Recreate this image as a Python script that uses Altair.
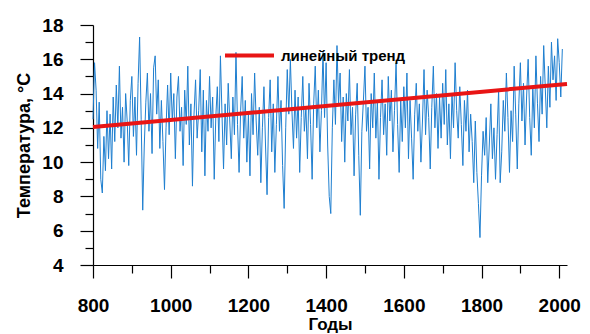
import altair as alt
import pandas as pd

start_year = 800
step = 4
temps = [
    # 800-896
    12.5, 15.8, 14.2, 10.8, 13.5, 9.0, 8.2, 11.5, 9.5, 13.0, 10.2, 12.8, 9.6, 13.8, 11.2, 14.5, 12.0, 15.6, 11.4, 13.2, 10.0, 14.0, 12.4, 9.8, 13.6,
    # 900-996
    15.0, 11.5, 13.8, 10.4, 14.6, 17.3, 12.5, 7.2, 11.0, 13.5, 15.2, 11.8, 14.0, 10.5, 15.5, 16.2, 12.8, 14.8, 10.8, 13.6, 11.2, 8.4, 12.0, 14.5, 11.6,
    # 1000-1096
    15.2, 12.4, 14.0, 10.2, 13.8, 15.0, 11.8, 13.2, 9.8, 14.2, 12.2, 15.6, 11.0, 13.4, 8.6, 12.8, 14.8, 11.4, 13.0, 15.4, 10.6, 14.2, 9.2, 13.6, 11.8,
    # 1100-1196
    15.0, 12.0, 13.8, 9.0, 12.6, 14.4, 11.2, 16.2, 12.8, 9.6, 13.4, 11.0, 14.6, 12.4, 10.2, 13.8, 11.6, 16.4, 12.2, 9.4, 13.0, 15.0, 11.4, 13.6, 10.0,
    # 1200-1296
    12.8, 9.2, 14.0, 11.6, 15.2, 12.4, 10.4, 13.2, 8.8, 12.0, 14.4, 11.0, 8.1, 12.6, 14.8, 10.6, 13.4, 9.4, 12.2, 15.0, 11.8, 13.6, 9.8, 7.3, 12.0,
    # 1300-1396
    15.4, 12.8, 16.0, 13.0, 10.8, 14.2, 11.4, 13.8, 9.4, 12.6, 15.0, 11.8, 13.2, 10.2, 14.6, 12.2, 9.0, 13.4, 15.6, 12.0, 14.2, 10.6, 13.0, 16.4, 12.6,
    # 1400-1496
    15.8, 11.0, 8.0, 7.0, 12.0, 14.8, 12.2, 16.8, 13.4, 15.2, 11.2, 13.8, 10.0, 14.0, 12.4, 15.4, 11.6, 13.2, 9.2, 12.8, 14.6, 10.4, 6.9, 11.8, 13.6,
    # 1500-1596
    15.6, 11.8, 13.2, 9.6, 14.0, 12.0, 15.2, 11.4, 13.6, 9.0, 12.6, 14.8, 11.6, 13.4, 10.4, 15.0, 12.4, 14.2, 10.6, 13.0, 15.8, 12.2, 9.4, 13.6, 11.2,
    # 1600-1696
    14.4, 12.0, 15.2, 10.2, 13.6, 11.4, 9.0, 12.8, 14.6, 11.8, 13.4, 10.0, 12.4, 15.4, 11.6, 14.2, 12.6, 9.6, 13.2, 15.6, 12.0, 14.0, 10.8, 13.8, 11.4,
    # 1700-1796
    14.6, 12.2, 15.4, 11.0, 13.4, 10.2, 14.0, 12.0, 15.8, 13.0, 11.4, 14.4, 12.2, 9.8, 13.6, 11.8, 14.2, 10.6, 12.8, 11.2, 8.8, 12.4, 9.4, 7.6, 5.6,
    # 1800-1896
    9.2, 11.8, 10.4, 12.6, 8.8, 11.0, 13.4, 10.2, 12.0, 9.0, 11.6, 14.2, 8.8, 10.6, 13.6, 11.8, 15.2, 12.6, 9.4, 13.0, 11.2, 15.6, 12.8, 9.6, 13.4,
    # 1900-2008
    15.8, 12.4, 14.6, 11.0, 13.8, 16.0, 12.6, 10.4, 14.4, 12.0, 16.2, 13.4, 11.2, 15.0, 12.8, 16.8, 14.4, 12.0, 15.6, 13.2, 17.0, 14.8, 16.2, 13.6, 17.2,
    15.8, 13.8, 16.6,
]
years = [start_year + step * i for i in range(len(temps))]

trend_label = "линейный тренд"
trend_years = [800, 2020]
trend_values = [12.05, 14.56]

x_ticks = list(range(800, 2001, 100))
y_ticks = list(range(4, 19, 1))

series = pd.DataFrame({"year": years, "temp": temps})
trend = pd.DataFrame({"year": trend_years, "temp": trend_values, "name": [trend_label] * 2})

font = "Liberation Sans"

x_axis = alt.Axis(
    title="Годы",
    values=x_ticks,
    format="d",
    labelExpr="datum.value % 200 == 0 ? datum.label : ''",
    labelOverlap=False,
    labelFlush=False,
    ticks=True,
    tickSize={"condition": {"test": "datum.value % 200 == 0", "value": 13}, "value": 8},
    tickWidth=1.2,
    labelPadding=18,
    titlePadding=1,
    grid=False,
    domainColor="black",
    domainWidth=1.2,
    tickColor="black",
    labelFont=font,
    labelFontSize=19,
    labelFontWeight="bold",
    labelColor="black",
    titleFont=font,
    titleFontSize=17,
    titleFontWeight="bold",
    titleColor="black",
)

y_axis = alt.Axis(
    title="Температура, °C",
    values=y_ticks,
    labelExpr="datum.value % 2 == 0 ? datum.label : ''",
    labelOverlap=False,
    ticks=True,
    tickSize={"condition": {"test": "datum.value % 2 == 0", "value": 13}, "value": 8},
    tickWidth=1.2,
    labelPadding=17,
    titlePadding=8,
    grid=False,
    domainColor="black",
    domainWidth=1.2,
    tickColor="black",
    labelFont=font,
    labelFontSize=19,
    labelFontWeight="bold",
    labelColor="black",
    titleFont=font,
    titleFontSize=18,
    titleFontWeight="bold",
    titleColor="black",
)

x_scale = alt.Scale(domain=[800, 2020], nice=False, zero=False)
y_scale = alt.Scale(domain=[4, 18], nice=False, zero=False)

line = alt.Chart(series).mark_line(color="#1f7fd0", strokeWidth=1).encode(
    x=alt.X("year:Q", scale=x_scale, axis=x_axis),
    y=alt.Y("temp:Q", scale=y_scale, axis=y_axis),
)

trend_line = alt.Chart(trend).mark_line(strokeWidth=4).encode(
    x=alt.X("year:Q", scale=x_scale, axis=x_axis),
    y=alt.Y("temp:Q", scale=y_scale, axis=y_axis),
    color=alt.Color(
        "name:N",
        scale=alt.Scale(domain=[trend_label], range=["#e81515"]),
        legend=alt.Legend(
            title=None,
            orient="none",
            legendX=130,
            legendY=4,
            symbolType="stroke",
            symbolStrokeWidth=4,
            symbolSize=2400,
            labelFont=font,
            labelFontSize=15,
            labelFontWeight="bold",
            labelColor="black",
            labelOffset=5,
        ),
    ),
)

chart = (
    alt.layer(line, trend_line)
    .properties(
        width=474,
        height=240,
        padding={"left": 93, "top": 25, "right": 23, "bottom": 69},
        autosize="none",
        background="white",
    )
    .configure_view(stroke=None)
)

chart.save("out.html", embed_options={"renderer": "svg", "actions": False})
